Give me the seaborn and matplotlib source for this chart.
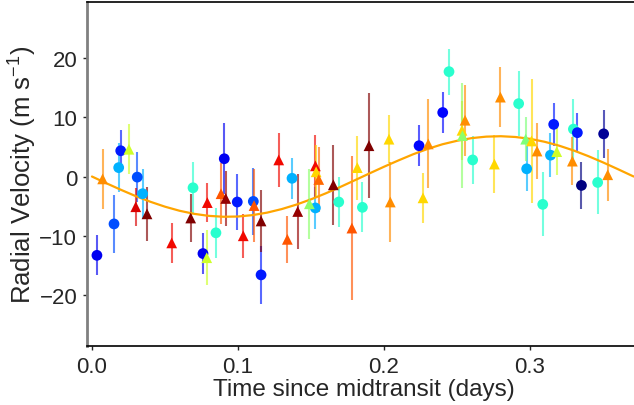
import numpy as np
import pandas as pd
import seaborn as sns
import matplotlib.pyplot as plt

# circles: first instrument
t_circ = [0.0034, 0.0151, 0.0197, 0.0183, 0.031, 0.0347, 0.0692, 0.076, 0.0849,
          0.0906, 0.0995, 0.1105, 0.1158, 0.137, 0.153, 0.169, 0.1852, 0.224,
          0.2402, 0.2445, 0.2607, 0.2922, 0.2977, 0.3087, 0.3162, 0.314, 0.3297,
          0.3324, 0.3352, 0.3463, 0.3504]
rv_circ = [-13.3, -8.0, 4.35, 1.5, -0.1, -2.9, -1.9, -13.0, -9.5,
           3.0, -4.3, -4.2, -16.6, -0.3, -5.3, -4.3, -5.2, 5.2,
           10.8, 17.7, 2.8, 12.3, 1.3, -4.7, 8.8, 3.6, 8.0,
           7.4, -1.5, -1.0, 7.2]
err_circ = [3.4, 4.9, 3.5, 4.1, 4.2, 4.2, 4.3, 3.5, 4.2,
            6.0, 4.7, 5.6, 4.9, 3.5, 3.5, 4.2, 4.2, 3.5,
            3.4, 3.9, 4.1, 5.5, 3.8, 5.4, 3.6, 3.7, 5.1,
            3.3, 3.9, 5.4, 4.1]
epoch_circ = [0.1, 0.2, 0.15, 0.3, 0.2, 0.3, 0.4, 0.1, 0.4,
              0.1, 0.15, 0.2, 0.15, 0.3, 0.3, 0.4, 0.4, 0.13,
              0.13, 0.4, 0.4, 0.4, 0.3, 0.4, 0.15, 0.3, 0.4,
              0.15, 0.0, 0.4, 0.02]

# triangles: second instrument
t_tri = [0.0073, 0.0253, 0.030, 0.0377, 0.0546, 0.0676, 0.0786, 0.079, 0.0884,
         0.0916, 0.1036, 0.111, 0.1158, 0.1279, 0.1338, 0.1409, 0.1489, 0.153,
         0.1535, 0.1553, 0.1653, 0.178, 0.1817, 0.1897, 0.2034, 0.2043, 0.2303,
         0.2267, 0.2555, 0.2534, 0.2537, 0.2756, 0.2797, 0.297, 0.301, 0.3048,
         0.3183, 0.329, 0.3532]
rv_tri = [-0.4, 4.6, -5.1, -6.3, -11.2, -7.0, -13.7, -4.4, -2.9,
          -3.7, -10.0, -4.9, -7.5, 2.8, -10.6, -5.9, -4.6, 1.8,
          0.8, -0.5, -1.4, -8.7, 1.5, 5.2, 6.3, -4.3, 5.5,
          -3.6, 9.5, 7.8, 6.9, 2.1, 13.4, 6.3, 6.0, 4.3,
          4.2, 2.6, 0.3]
err_tri = [5.1, 4.2, 3.2, 4.6, 3.4, 4.1, 4.6, 3.3, 5.1,
           4.6, 3.7, 6.1, 5.2, 4.6, 4.0, 6.3, 5.9, 5.2,
           4.5, 5.5, 6.7, 12.1, 5.4, 8.9, 4.0, 6.8, 7.5,
           4.2, 6.0, 5.0, 8.8, 4.9, 5.1, 3.7, 10.5, 4.7,
           4.0, 4.0, 4.4]
epoch_tri = [0.76, 0.6, 0.92, 1.0, 0.9, 1.0, 0.6, 0.9, 0.82,
             0.98, 0.9, 0.82, 1.0, 0.9, 0.82, 0.98, 0.52, 0.9,
             0.68, 0.8, 1.0, 0.82, 0.68, 1.0, 0.68, 0.76, 0.76,
             0.68, 0.76, 0.68, 0.52, 0.68, 0.76, 0.5, 0.68, 0.76,
             0.6, 0.76, 0.76]

# model curve
t_model = [0.0, 0.01, 0.02, 0.03, 0.04, 0.05, 0.06, 0.07, 0.08, 0.09, 0.10,
           0.11, 0.12, 0.13, 0.14, 0.15, 0.16, 0.17, 0.18, 0.19, 0.20, 0.21,
           0.22, 0.23, 0.24, 0.25, 0.26, 0.27, 0.28, 0.29, 0.30, 0.31, 0.32,
           0.33, 0.34, 0.35, 0.36, 0.37, 0.371]
rv_model = [0.0, -1.15, -2.26, -3.31, -4.26, -5.09, -5.78, -6.30, -6.64, -6.79,
            -6.75, -6.51, -6.09, -5.49, -4.74, -3.85, -2.85, -1.77, -0.63, 0.52,
            1.65, 2.73, 3.76, 4.67, 5.44, 6.03, 6.48, 6.73, 6.80, 6.67, 6.36,
            5.86, 5.20, 4.38, 3.43, 2.38, 1.26, 0.11, 0.0]

df = pd.DataFrame({
    "t": t_circ + t_tri,
    "rv": rv_circ + rv_tri,
    "err": err_circ + err_tri,
    "epoch": epoch_circ + epoch_tri,
    "inst": ["a"] * len(t_circ) + ["b"] * len(t_tri),
})
model = pd.DataFrame({"t": t_model, "rv": rv_model})

sns.set_style("white")
plt.rcParams["font.family"] = ["Liberation Sans", "DejaVu Sans"]
plt.rcParams["mathtext.fontset"] = "custom"
plt.rcParams["mathtext.rm"] = "Liberation Sans"
cmap = plt.get_cmap("jet")

fig = plt.figure(figsize=(6.34, 4.06), dpi=100)
ax = fig.add_axes([87 / 634, 59 / 406, (640 - 87) / 634, 344 / 406])

ax.vlines(df["t"], df["rv"] - df["err"], df["rv"] + df["err"],
          colors=[cmap(c) for c in df["epoch"]], alpha=0.65, linewidth=1.5, zorder=1)
sns.lineplot(data=model, x="t", y="rv", color="orange", linewidth=1.6, ax=ax, zorder=2)
sns.scatterplot(data=df, x="t", y="rv", hue="epoch", palette=cmap, hue_norm=(0, 1),
                style="inst", markers={"a": "o", "b": "^"}, s=60, linewidth=0,
                legend=False, ax=ax, zorder=3)

ax.set_xlim(-0.0034, 0.3753)
ax.set_ylim(-28.6, 29.45)
ax.set_xticks([0.0, 0.1, 0.2, 0.3])
ax.set_yticks([-20, -10, 0, 10, 20])
ax.set_xlabel("Time since midtransit (days)", fontsize=17.5, labelpad=1)
ax.set_ylabel("Radial Velocity (m s$^{\\mathrm{-1}}$)", fontsize=18.5, labelpad=1)
ax.tick_params(axis="both", labelsize=16, length=3, width=1, direction="out",
               bottom=True, left=True, pad=4)

ax.spines["left"].set_color("gray")
ax.spines["left"].set_linewidth(2)
for side in ["bottom", "top"]:
    ax.spines[side].set_color("black")
    ax.spines[side].set_linewidth(1.2)
ax.spines["right"].set_visible(False)

fig.savefig("out.png", dpi=100)
